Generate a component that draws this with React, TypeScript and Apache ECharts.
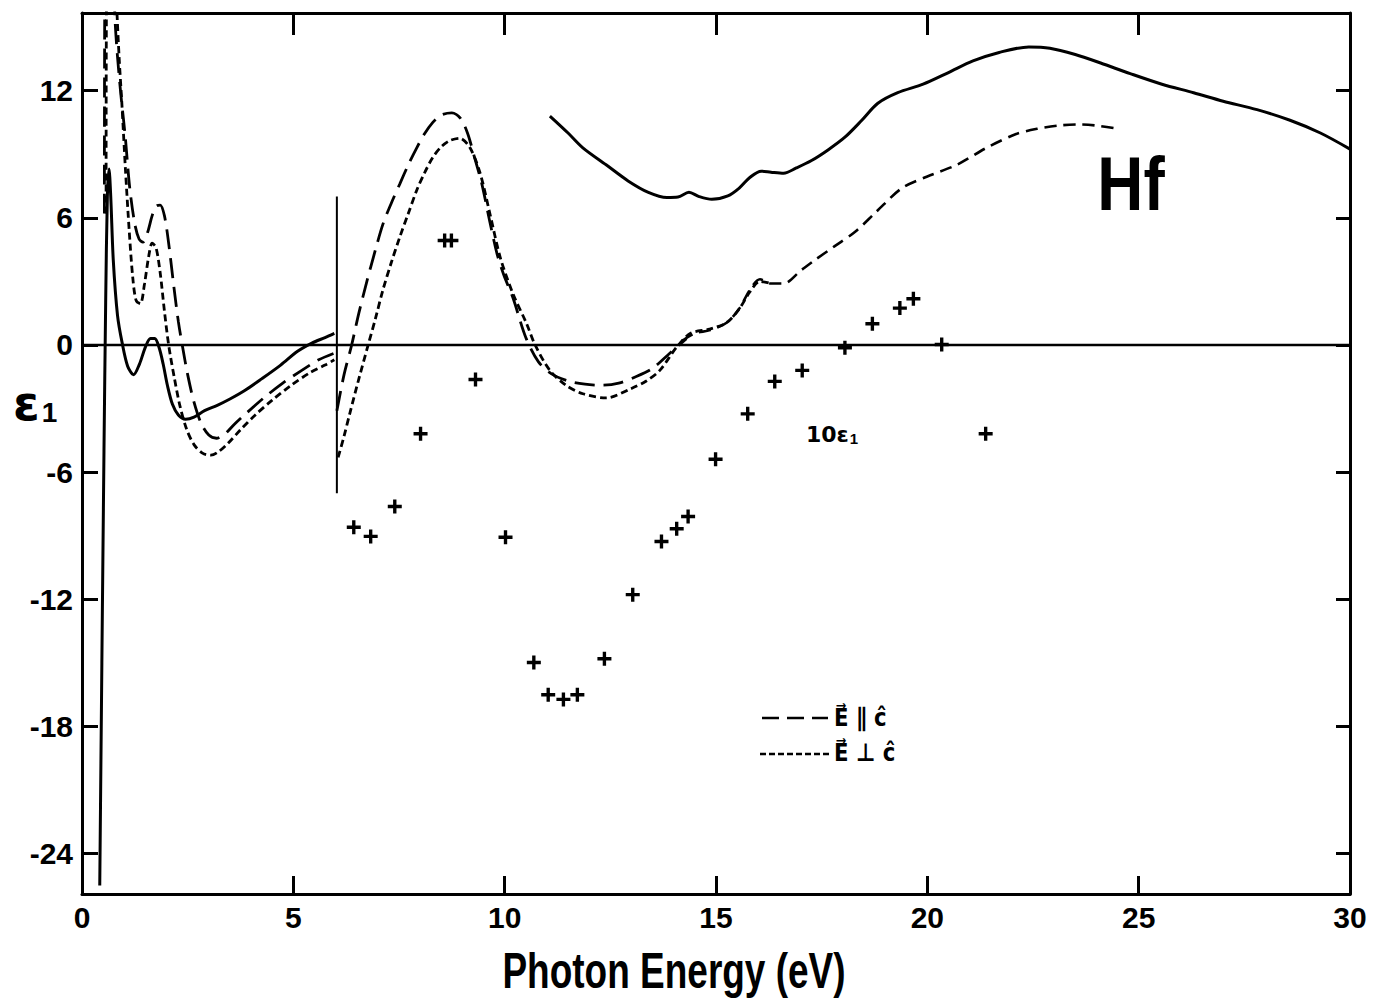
import React, { useEffect, useRef } from 'react';
import * as echarts from 'echarts';

// ---- axis ticks ----
const xTicks = [0, 5, 10, 15, 20, 25, 30];
const yTicks = [-24, -18, -12, -6, 0, 6, 12];

// ---- solid curve, low-energy branch ----
const solidLowE = [0.42, 0.47, 0.52, 0.56, 0.6, 0.64, 0.68, 0.74, 0.84, 0.95, 1.08, 1.22, 1.36, 1.5, 1.62, 1.72, 1.82, 1.92, 2.02, 2.14, 2.28, 2.45, 2.65, 2.9, 3.2, 3.5, 3.85, 4.25, 4.7, 5.1, 5.45, 5.75, 5.97];
const solidLowEps = [-25.5, -15, -5, 2, 7, 8.3, 7.0, 4.0, 1.4, 0.1, -1.0, -1.4, -0.9, -0.1, 0.3, 0.3, -0.1, -0.9, -1.9, -2.8, -3.3, -3.5, -3.4, -3.1, -2.85, -2.55, -2.15, -1.6, -0.95, -0.3, 0.1, 0.35, 0.55];

// ---- solid curve, high-energy branch ----
const solidHighE = [11.07, 11.5, 11.85, 12.4, 12.92, 13.4, 13.84, 14.1, 14.36, 14.6, 14.9, 15.28, 15.55, 15.8, 16.07, 16.3, 16.6, 16.9, 17.26, 17.65, 18.05, 18.45, 18.83, 19.3, 19.9, 20.5, 21.08, 21.7, 22.4, 22.9, 23.5, 24.1, 24.8, 25.55, 26.3, 27.0, 27.8, 28.58, 29.3, 30];
const solidHighEps = [10.8, 10.0, 9.3, 8.5, 7.74, 7.2, 6.96, 6.98, 7.2, 7.0, 6.87, 7.03, 7.4, 7.9, 8.2, 8.15, 8.1, 8.35, 8.7, 9.2, 9.8, 10.6, 11.4, 11.9, 12.3, 12.85, 13.4, 13.8, 14.06, 14.0, 13.7, 13.3, 12.8, 12.3, 11.9, 11.5, 11.1, 10.6, 10.0, 9.24];

// ---- E parallel c (long dashes) ----
const parLowE = [0.53, 0.55, 0.74, 0.78, 0.84, 0.92, 1.02, 1.13, 1.25, 1.35, 1.44, 1.55, 1.66, 1.76, 1.85, 1.95, 2.05, 2.17, 2.28, 2.38, 2.5, 2.65, 2.82, 3.0, 3.18, 3.38, 3.6, 3.9, 4.3, 4.75, 5.2, 5.6, 5.95];
const parLowEps = [6.2, 18, 18, 15.4, 13.6, 11.8, 9.9, 7.4, 5.7, 5.0, 4.85, 5.3, 6.1, 6.55, 6.6, 6.1, 4.8, 2.8, 1.1, -0.1, -1.4, -2.7, -3.7, -4.25, -4.4, -4.2, -3.75, -3.2, -2.5, -1.8, -1.2, -0.7, -0.4];
const parHighE = [6.03, 6.2, 6.38, 6.55, 6.74, 6.93, 7.12, 7.32, 7.52, 7.72, 7.92, 8.1, 8.3, 8.5, 8.75, 8.95, 9.12, 9.28, 9.46, 9.65, 9.82, 9.98, 10.2, 10.5, 10.8, 11.1, 11.5, 11.9, 12.3, 12.7, 13.1, 13.5, 13.9, 14.3];
const parHighEps = [-3.1, -1.4, 0, 1.5, 3.0, 4.4, 5.7, 6.7, 7.6, 8.5, 9.3, 9.95, 10.5, 10.85, 10.95, 10.7, 10.0, 8.9, 7.6, 5.8, 4.3, 3.3, 2.2, 0.35, -0.8, -1.35, -1.7, -1.85, -1.9, -1.8, -1.5, -1.1, -0.4, 0.3];
const upperE = [14.2, 14.5, 14.86, 15.26, 15.57, 15.8, 16.04, 16.3, 16.6, 17.0, 17.3, 17.8, 18.3, 18.8, 19.4, 20.0, 20.7, 21.4, 22.1, 22.6, 23.1, 23.6, 24.0, 24.5];
const upperEps = [0.2, 0.55, 0.7, 1.06, 1.77, 2.6, 3.1, 2.9, 2.9, 3.5, 3.95, 4.65, 5.35, 6.3, 7.4, 7.95, 8.5, 9.3, 9.95, 10.2, 10.35, 10.4, 10.35, 10.2];

// ---- E perpendicular c (short dashes) ----
const perpLowE = [0.57, 0.59, 0.78, 0.82, 0.88, 0.94, 1.03, 1.12, 1.2, 1.28, 1.38, 1.48, 1.58, 1.66, 1.75, 1.85, 1.95, 2.05, 2.18, 2.32, 2.48, 2.65, 2.85, 3.05, 3.22, 3.45, 3.75, 4.1, 4.5, 4.95, 5.4, 5.75, 5.97];
const perpLowEps = [6.2, 18, 18, 16.0, 13.5, 11.5, 8.2, 5.3, 3.2, 2.1, 1.95, 2.9, 4.2, 4.8, 4.6, 3.4, 1.6, 0.0, -1.5, -2.9, -4.0, -4.7, -5.1, -5.2, -5.05, -4.65, -4.0, -3.3, -2.6, -1.9, -1.3, -0.95, -0.7];
const perpHighE = [6.06, 6.2, 6.34, 6.55, 6.77, 6.95, 7.12, 7.32, 7.52, 7.72, 7.92, 8.1, 8.3, 8.5, 8.7, 8.94, 9.18, 9.42, 9.65, 9.9, 10.2, 10.52, 10.72, 11.07, 11.45, 11.85, 12.4, 13.0, 13.35, 13.67, 14.07, 14.4, 14.85, 15.25, 15.55, 15.8, 16.04, 16.3];
const perpHighEps = [-5.3, -4.3, -3.2, -1.6, 0, 1.3, 2.6, 3.9, 5.1, 6.2, 7.3, 8.1, 8.85, 9.35, 9.64, 9.75, 9.3, 8.1, 6.2, 4.1, 2.4, 1.0, 0, -1.2, -1.9, -2.3, -2.5, -2.05, -1.7, -1.2, -0.1, 0.55, 0.75, 1.05, 1.7, 2.5, 3.0, 2.9];

// ---- vertical scale-change line at 6 eV and zero line ----
const markerLineE = [6.03, 6.03];
const markerLineEps = [-7.0, 7.0];
const zeroLineE = [0, 30];
const zeroLineEps = [0, 0];

// ---- crosses: 10 x eps1 ----
const crossE = [6.43, 6.83, 7.4, 8.01, 8.58, 8.74, 9.31, 10.02, 10.69, 11.03, 11.39, 11.72, 12.36, 13.03, 13.71, 14.07, 14.34, 14.99, 15.75, 16.39, 17.04, 18.05, 18.7, 19.35, 19.67, 20.34, 21.38];
const crossEps = [-8.6, -9.03, -7.62, -4.19, 4.93, 4.93, -1.63, -9.07, -14.98, -16.5, -16.72, -16.5, -14.8, -11.78, -9.27, -8.67, -8.09, -5.39, -3.25, -1.72, -1.2, -0.13, 1.0, 1.74, 2.18, 0.02, -4.19];

const FONT = '"Liberation Sans", Arial, sans-serif';
const SYMFONT = '"DejaVu Sans", "Liberation Sans", sans-serif';

const zip = (xs: number[], ys: number[]) => xs.map((x, i) => [x, ys[i]]);

function lineSeries(name: string, xs: number[], ys: number[], dash: any, width = 2.6, smooth: any = 0.3) {
  return {
    name,
    type: 'line',
    data: zip(xs, ys),
    symbol: 'none',
    showSymbol: false,
    smooth,
    clip: true,
    lineStyle: { color: '#000', width, type: dash, cap: 'butt' },
    z: 3,
  };
}

export default function App() {
  const ref = useRef<HTMLDivElement>(null);
  useEffect(() => {
    const chart = echarts.init(ref.current!, null, { renderer: 'svg' });
    const axisLine = { show: true, onZero: false, lineStyle: { color: '#000', width: 3 } };
    const labelStyle = { color: '#000', fontSize: 30, fontWeight: 'bold', fontFamily: FONT };
    const option: any = {
      animation: false,
      backgroundColor: '#fff',
      grid: { left: 82, right: 23, top: 13, bottom: 110, containLabel: false },
      xAxis: [
        {
          type: 'value', min: 0, max: 30, interval: 5, position: 'bottom',
          axisLine,
          axisTick: { show: true, inside: true, length: 18, lineStyle: { color: '#000', width: 3 } },
          axisLabel: { ...labelStyle, margin: 8, formatter: (v: number) => (xTicks.includes(v) ? String(v) : '') },
          splitLine: { show: false },
        },
        {
          type: 'value', min: 0, max: 30, interval: 5, position: 'top',
          axisLine,
          axisTick: { show: true, inside: true, length: 22, lineStyle: { color: '#000', width: 3 } },
          axisLabel: { show: false },
          splitLine: { show: false },
        },
      ],
      yAxis: [
        {
          type: 'value', min: -25.9, max: 15.66, position: 'left',
          axisLine,
          axisTick: { show: true, inside: true, length: 16, customValues: yTicks, lineStyle: { color: '#000', width: 3 } },
          axisLabel: { ...labelStyle, margin: 9, customValues: yTicks },
          splitLine: { show: false },
        },
        {
          type: 'value', min: -25.9, max: 15.66, position: 'right',
          axisLine,
          axisTick: { show: true, inside: true, length: 14, customValues: yTicks, lineStyle: { color: '#000', width: 3 } },
          axisLabel: { show: false },
          splitLine: { show: false },
        },
      ],
      series: [
        lineSeries('zero', zeroLineE, zeroLineEps, 'solid', 2.4, false),
        lineSeries('6 eV', markerLineE, markerLineEps, 'solid', 2, false),
        lineSeries('eps1 low', solidLowE, solidLowEps, 'solid', 3),
        lineSeries('eps1 high', solidHighE, solidHighEps, 'solid', 3),
        lineSeries('E par c low', parLowE, parLowEps, [20, 9], 2.8),
        lineSeries('E par c high', parHighE, parHighEps, [20, 9], 2.8),
        lineSeries('E par c upper', upperE, upperEps, [12, 7], 2.6),
        lineSeries('E perp c low', perpLowE, perpLowEps, [7, 4], 2.8),
        lineSeries('E perp c high', perpHighE, perpHighEps, [7, 4], 2.8),
        {
          name: '10 eps1',
          type: 'scatter',
          data: zip(crossE, crossEps),
          symbol: 'path://M3.8,0H6.2V3.8H10V6.2H6.2V10H3.8V6.2H0V3.8H3.8Z',
          symbolSize: 14,
          itemStyle: { color: '#000', opacity: 1 },
          z: 4,
        },
      ],
      graphic: [
        {
          type: 'text', x: 674, y: 970, scaleX: 0.74,
          style: {
            text: 'Photon Energy (eV)', fill: '#000', fontSize: 50, fontWeight: 'bold', fontFamily: FONT,
            align: 'center', textAlign: 'center', verticalAlign: 'middle', textVerticalAlign: 'middle',
          },
        },
        {
          type: 'text', x: 13, y: 403,
          style: {
            text: '{e|ε}{s|1}',
            fill: '#000',
            verticalAlign: 'middle', textVerticalAlign: 'middle',
            rich: {
              e: { fontSize: 48, fontWeight: 'bold', fontFamily: SYMFONT, fill: '#000' },
              s: { fontSize: 28, fontWeight: 'bold', fontFamily: FONT, fill: '#000', padding: [18, 0, 0, 2] },
            },
          },
        },
        {
          type: 'text', x: 806, y: 434,
          style: {
            text: '{e|10ε}{s|1}',
            fill: '#000',
            verticalAlign: 'middle', textVerticalAlign: 'middle',
            rich: {
              e: { fontSize: 22, fontWeight: 'bold', fontFamily: SYMFONT, fill: '#000' },
              s: { fontSize: 15, fontWeight: 'bold', fontFamily: FONT, fill: '#000', padding: [8, 0, 0, 1] },
            },
          },
        },
        {
          type: 'text', x: 1131, y: 183, scaleX: 0.84,
          style: {
            text: 'Hf', fill: '#000', fontSize: 76, fontWeight: 'bold', fontFamily: FONT,
            align: 'center', textAlign: 'center', verticalAlign: 'middle', textVerticalAlign: 'middle',
          },
        },
        {
          type: 'line', shape: { x1: 762, y1: 718, x2: 828, y2: 718 },
          style: { stroke: '#000', lineWidth: 2.6, lineDash: [17, 8] },
        },
        {
          type: 'line', shape: { x1: 760, y1: 754, x2: 830, y2: 754 },
          style: { stroke: '#000', lineWidth: 2.6, lineDash: [6, 3] },
        },
        {
          type: 'text', x: 834, y: 717, scaleX: 0.85,
          style: {
            text: 'E⃗ ∥ ĉ', fill: '#000', fontSize: 25, fontWeight: 'bold', fontFamily: SYMFONT,
            verticalAlign: 'middle', textVerticalAlign: 'middle',
          },
        },
        {
          type: 'text', x: 834, y: 752, scaleX: 0.85,
          style: {
            text: 'E⃗ ⊥ ĉ', fill: '#000', fontSize: 25, fontWeight: 'bold', fontFamily: SYMFONT,
            verticalAlign: 'middle', textVerticalAlign: 'middle',
          },
        },
      ],
    };
    chart.setOption(option);
    return () => chart.dispose();
  }, []);
  return (
    <div
      ref={ref}
      style={{ position: 'fixed', left: 0, top: 0, width: 1373, height: 1004, background: '#fff' }}
    />
  );
}
